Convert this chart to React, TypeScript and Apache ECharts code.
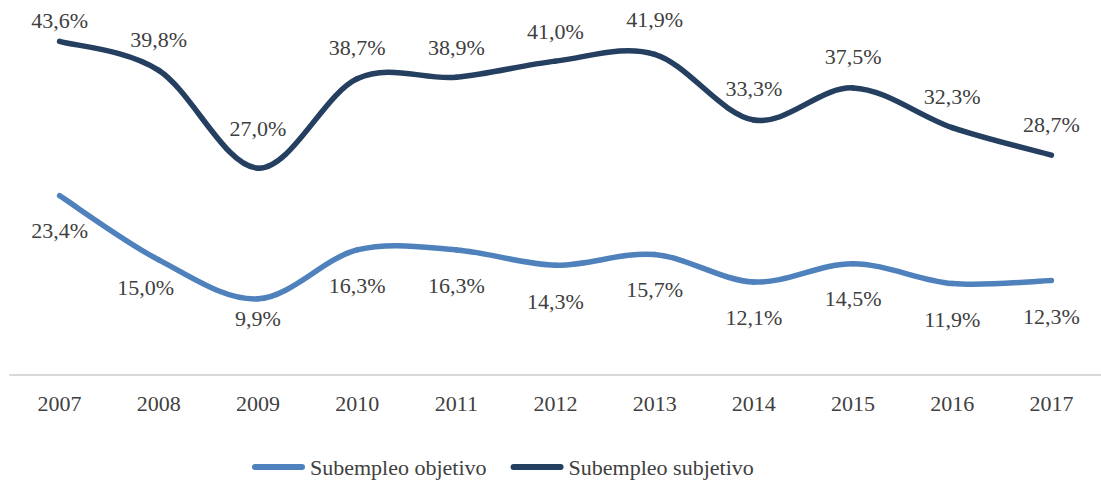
import React, { useEffect, useRef } from "react";
import * as echarts from "echarts";

const years = ["2007", "2008", "2009", "2010", "2011", "2012", "2013", "2014", "2015", "2016", "2017"];
const objetivo = [23.4, 15.0, 9.9, 16.3, 16.3, 14.3, 15.7, 12.1, 14.5, 11.9, 12.3];
const subjetivo = [43.6, 39.8, 27.0, 38.7, 38.9, 41.0, 41.9, 33.3, 37.5, 32.3, 28.7];
const seriesNames = ["Subempleo objetivo", "Subempleo subjetivo"];

const objDist = [23, 16, 8, 24, 24, 24, 23, 23, 23, 24, 24];
const objOffX = [0, -13, 0, 0, 0, 0, 0, 0, 0, 0, 0];
const subDist = [9, 19, 28, 19, 18, 18, 23, 19, 19, 19, 19];

const FONT = "Liberation Serif";
const TXT = "#404040";
const COL_OBJ = "#4F81BD";
const COL_SUB = "#243F60";
const pill = "path://M3,0 H50 A3,3 0 0 1 50,6 H3 A3,3 0 0 1 3,0 Z";

const fmt = (v: number) => v.toFixed(1).replace(".", ",") + "%";

export default function App() {
  const ref = useRef<HTMLDivElement>(null);
  useEffect(() => {
    if (!ref.current) return;
    const chart = echarts.init(ref.current, null, { renderer: "svg" });

    // labels + legend entry (line itself invisible)
    const mkLabels = (name: string, color: string, vals: number[], pos: string, dist: number[], offX: number[] | null) => ({
      name,
      type: "line",
      symbol: "circle",
      symbolSize: 2,
      showSymbol: true,
      showAllSymbol: true,
      color,
      itemStyle: { color },
      lineStyle: { width: 0, opacity: 0 },
      emphasis: { disabled: true },
      z: 2,
      label: { show: true, fontFamily: FONT, fontSize: 22, color: TXT, textBorderWidth: 0 },
      data: vals.map((v, i) => ({
        value: v,
        label: {
          show: true,
          position: pos,
          distance: dist[i],
          offset: [offX ? offX[i] : 0, 0],
          formatter: fmt(v),
          fontFamily: FONT,
          fontSize: 22,
          color: TXT,
          textBorderWidth: 0,
        },
      })),
    });

    // smooth curve, Catmull-Rom style (Excel-like smoothing)
    const mkCurve = (id: string, color: string, vals: number[]) => ({
      name: id,
      type: "custom",
      z: 3,
      silent: true,
      data: vals.map((v, i) => [i, v]),
      renderItem: (params: any, api: any) => {
        const i = params.dataIndex;
        const n = vals.length;
        if (i >= n - 1) return null;
        const P = (j: number) => {
          const k = Math.max(0, Math.min(n - 1, j));
          return api.coord([k, vals[k]]);
        };
        const p0 = P(i - 1), p1 = P(i), p2 = P(i + 1), p3 = P(i + 2);
        const t = 1 / 6;
        return {
          type: "bezierCurve",
          shape: {
            x1: p1[0], y1: p1[1],
            x2: p2[0], y2: p2[1],
            cpx1: p1[0] + (p2[0] - p0[0]) * t,
            cpy1: p1[1] + (p2[1] - p0[1]) * t,
            cpx2: p2[0] - (p3[0] - p1[0]) * t,
            cpy2: p2[1] - (p3[1] - p1[1]) * t,
          },
          style: { stroke: color, lineWidth: 5.5, lineCap: "round", fill: "none" },
        };
      },
    });

    chart.setOption({
      animation: false,
      textStyle: { fontFamily: FONT },
      grid: { left: 10, width: 1100, top: 0, height: 374.5, containLabel: false },
      legend: {
        top: 451,
        left: 247,
        itemWidth: 53,
        itemHeight: 6,
        itemGap: 24,
        icon: pill,
        itemStyle: { opacity: 1 },
        textStyle: { fontFamily: FONT, fontSize: 22, color: TXT },
        data: seriesNames,
      },
      xAxis: {
        type: "category",
        data: years,
        boundaryGap: true,
        axisLine: { show: true, lineStyle: { color: "#D9D9D9", width: 2 } },
        axisTick: { show: false },
        axisLabel: { fontFamily: FONT, fontSize: 22, color: TXT, margin: 18 },
      },
      yAxis: {
        type: "value",
        min: 0,
        max: 49,
        show: false,
        splitLine: { show: false },
      },
      series: [
        mkLabels(seriesNames[0], COL_OBJ, objetivo, "bottom", objDist, objOffX),
        mkLabels(seriesNames[1], COL_SUB, subjetivo, "top", subDist, null),
        mkCurve("curve-obj", COL_OBJ, objetivo),
        mkCurve("curve-sub", COL_SUB, subjetivo),
      ],
    });
    return () => chart.dispose();
  }, []);
  return (
    <div
      ref={ref}
      style={{ position: "absolute", left: 0, top: 0, width: 1101, height: 480, background: "#fff" }}
    />
  );
}
